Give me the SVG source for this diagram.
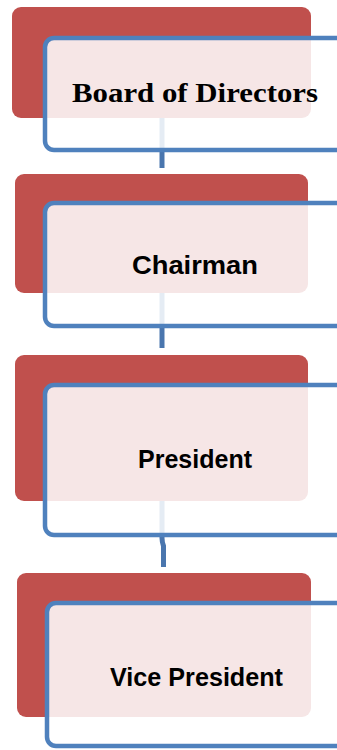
<svg xmlns="http://www.w3.org/2000/svg" width="337" height="750" viewBox="0 0 337 750">
<style>
.back{fill:#C0504D}
.front{fill:#ffffff;fill-opacity:0.86;stroke:#4F81BD;stroke-width:4.5}
.conn{fill:none;stroke:#4A76AE;stroke-width:5}
.serif{font-family:"Liberation Serif","DejaVu Serif",serif;font-weight:bold;fill:#000}
.sans{font-family:"Liberation Sans","DejaVu Sans",sans-serif;font-weight:bold;fill:#000}
</style>
<rect width="337" height="750" fill="#ffffff"/>
<g id="connectors">
<path class="conn" d="M162 118 V168"/>
<path class="conn" d="M162 293 V348"/>
<path class="conn" d="M162 501 V538 Q162 542 163.5 546 V567"/>
</g>
<g id="board">
<rect class="back" x="12" y="7" width="299" height="111" rx="9"/>
<rect class="front" x="45" y="38" width="300" height="112" rx="9"/>
<text class="serif" x="195" y="102" font-size="28" text-anchor="middle" textLength="246" lengthAdjust="spacingAndGlyphs">Board of Directors</text>
</g>
<g id="chairman">
<rect class="back" x="15" y="174" width="293" height="119" rx="9"/>
<rect class="front" x="45" y="203" width="300" height="123" rx="9"/>
<text class="sans" x="195" y="274" font-size="26" text-anchor="middle" textLength="126" lengthAdjust="spacingAndGlyphs">Chairman</text>
</g>
<g id="president">
<rect class="back" x="15" y="355" width="293" height="146" rx="9"/>
<rect class="front" x="45" y="385" width="300" height="150" rx="9"/>
<text class="sans" x="195" y="468" font-size="26" text-anchor="middle" textLength="114" lengthAdjust="spacingAndGlyphs">President</text>
</g>
<g id="vice-president">
<rect class="back" x="17" y="573" width="294" height="144" rx="9"/>
<rect class="front" x="47" y="603" width="300" height="143" rx="9"/>
<text class="sans" x="196.5" y="686" font-size="26" text-anchor="middle" textLength="173" lengthAdjust="spacingAndGlyphs">Vice President</text>
</g>
</svg>
